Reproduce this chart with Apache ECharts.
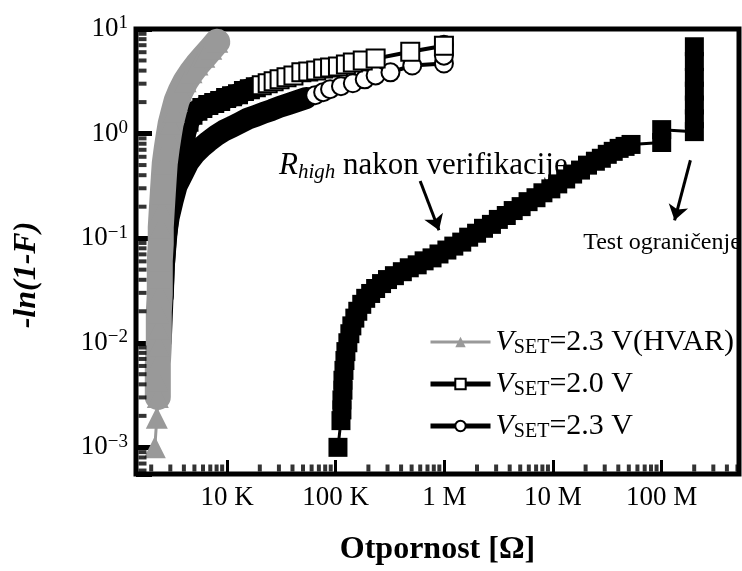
<!DOCTYPE html>
<html>
<head>
<meta charset="utf-8">
<script src="https://cdn.jsdelivr.net/npm/echarts@6/dist/echarts.min.js"></script>
<style>
  html, body { margin: 0; padding: 0; background: #fff; }
  #chart { width: 742px; height: 571px; }
</style>
</head>
<body>
<div id="chart"></div>
<script>
// ---- Resistance [Ω] vs. -ln(1-F) for each programmed population ----
// V_SET = 2.3 V (HVAR)
const hvarR = [2160, 2254, 2301, 2301, 2301, 2350, 2350, 2350, 2399, 2399, 2399, 2449, 2449, 2501, 2556, 2611, 2667, 2780, 2897, 3022, 3220, 3427, 3731, 4143, 4698, 5328, 6170, 7145, 8110];
const hvarF = [0.001, 0.00192, 0.00303, 0.00438, 0.00634, 0.00937, 0.0136, 0.0196, 0.029, 0.0419, 0.0607, 0.0878, 0.127, 0.184, 0.266, 0.376, 0.521, 0.722, 0.957, 1.243, 1.613, 2.05, 2.55, 3.16, 3.85, 4.57, 5.44, 6.48, 7.54];

// V_SET = 2.0 V
const set20R = [2556, 2611, 2721, 2838, 3022, 3288, 3575, 3888, 4141, 4411, 4797, 5329, 5917, 6712, 7613, 8636, 9792, 11110, 12600, 14290, 16210, 18380, 20840, 23640, 26820, 30420, 35240, 40810, 48280, 55900, 66130, 76620, 88720, 104900, 124100, 143800, 177400, 233100, 485800, 991800];
const set20F = [0.0278, 0.0533, 0.0917, 0.151, 0.244, 0.376, 0.556, 0.787, 1.04, 1.30, 1.51, 1.65, 1.76, 1.88, 1.96, 2.05, 2.19, 2.28, 2.38, 2.55, 2.66, 2.78, 2.90, 3.03, 3.16, 3.30, 3.45, 3.60, 3.85, 3.93, 4.02, 4.20, 4.29, 4.38, 4.58, 4.78, 4.99, 5.21, 6.07, 6.91];

// V_SET = 2.3 V
const set23R = [2449, 2501, 2556, 2611, 2723, 2897, 3152, 3428, 3971, 4411, 5003, 5794, 6712, 7940, 9390, 11110, 13140, 15540, 18380, 21740, 25720, 30420, 36750, 44390, 53610, 64760, 76620, 88720, 111800, 143800, 185000, 233100, 319200, 506800, 991800, 991800, 991800];
const set23F = [0.0104, 0.0180, 0.0310, 0.0533, 0.102, 0.158, 0.228, 0.316, 0.429, 0.533, 0.634, 0.738, 0.840, 0.958, 1.07, 1.16, 1.27, 1.39, 1.48, 1.58, 1.68, 1.80, 1.92, 2.05, 2.19, 2.33, 2.49, 2.66, 2.84, 3.03, 3.30, 3.60, 3.85, 4.48, 4.68, 5.56, 7.07];

// R_high after verification (the last column sits at the test limit)
const highR = [104900,
  111800, 114100, 114100, 116600, 116600, 119100, 121600, 124100, 129400, 135000,
  140800, 150000, 159700, 173700, 188900, 209800, 233100, 264300, 299900, 347200,
  410700, 475700, 562600, 651600, 770900, 893100, 1056000, 1223000, 1447000, 1676000,
  1982000, 2296000, 2716000, 3145000, 3721000, 4310000, 5097000, 5905000, 6984000, 8090000,
  9570000, 11080000, 13110000, 15190000, 17960000, 20810000, 24610000, 27920000, 31660000, 35920000,
  40720000, 46180000, 52390000,
  100400000, 100400000,
  200700000, 200700000, 200700000, 200700000, 200700000, 200700000, 200700000];
const highF = [0.0010,
  0.00180, 0.00228, 0.00284, 0.00352, 0.00438, 0.00544, 0.00676, 0.00823, 0.0100, 0.0122,
  0.0145, 0.0172, 0.0200, 0.0233, 0.0266, 0.0296, 0.0330, 0.0368, 0.0402, 0.0438,
  0.0478, 0.0521, 0.0556, 0.0607, 0.0648, 0.0706, 0.0770, 0.0840, 0.0917, 0.1022,
  0.1115, 0.1243, 0.1355, 0.1511, 0.1648, 0.1837, 0.2003, 0.2234, 0.2436, 0.2716,
  0.2962, 0.3303, 0.3681, 0.4104, 0.4477, 0.4991, 0.5441, 0.5808, 0.6336, 0.6764,
  0.7220, 0.7542, 0.7874,
  0.822, 1.091,
  1.044, 1.385, 1.877, 2.545, 3.449, 4.883, 6.764];

// Axis ticks and labels
const xTickExps = [4, 5, 6, 7, 8];
const xTickNames = ['10 K', '100 K', '1 M', '10 M', '100 M'];
const yTickExps = [-3, -2, -1, 0, 1];
const minorFactors = [2, 3, 4, 5, 6, 7, 8, 9];
const xDecades = [1e3, 1e4, 1e5, 1e6, 1e7, 1e8];
const yDecades = [1e-4, 1e-3, 1e-2, 1e-1, 1];

// Annotation arrows: [fromR, fromF, toR, toF]
const arrowSegments = [
  [5.993e5, 0.3525, 8.93e5, 0.119],
  [1.845e8, 0.556, 1.319e8, 0.148]
];

const X_MIN = 1449, X_MAX = 5.17e8;
const Y_MIN = 5.56e-4, Y_MAX = 10;
const SERIF = '"Liberation Serif", "Times New Roman", "DejaVu Serif", serif';

const zip = (a, b) => a.map((v, i) => [v, b[i]]);
const isPow10 = v => Math.abs(Math.log10(v) - Math.round(Math.log10(v))) < 1e-6;

// Where a curve is crowded its markers merge into a solid black band
function openMarkers(r, f, solidBelow) {
  return r.map((v, i) => {
    const item = { value: [v, f[i]] };
    if (v < solidBelow) item.itemStyle = { color: '#000' };
    return item;
  });
}
const crowded = (r, f, solidBelow) => zip(r, f).filter(p => p[0] < solidBelow);

const SOLID20 = 2.0e4, SOLID23 = 6.0e4;

const minorX = [];
xDecades.forEach(d => minorFactors.forEach(k => { const v = d * k; if (v > X_MIN && v < X_MAX) minorX.push([v, Y_MIN]); }));
const minorY = [];
yDecades.forEach(d => minorFactors.forEach(k => { const v = d * k; if (v > Y_MIN && v < Y_MAX) minorY.push([X_MIN, v]); }));

const legendText = {
  hvar: '{v|V}{s|SET}{t|=2.3 V(HVAR)}',
  set20: '{v|V}{s|SET}{t|=2.0 V}',
  set23: '{v|V}{s|SET}{t|=2.3 V}'
};

const chart = echarts.init(document.getElementById('chart'), null, { renderer: 'canvas' });

chart.setOption({
  animation: false,
  backgroundColor: '#fff',
  grid: {
    left: 136, right: -3, top: 29, bottom: 91,
    show: true, borderColor: '#000', borderWidth: 5, backgroundColor: 'transparent'
  },
  xAxis: {
    type: 'log', logBase: 10, min: X_MIN, max: X_MAX,
    axisLine: { show: false },
    splitLine: { show: false },
    axisTick: { show: true, inside: true, length: 14, lineStyle: { color: '#000', width: 3 } },
    axisLabel: {
      color: '#000', fontFamily: SERIF, fontSize: 27, margin: 10, hideOverlap: false,
      formatter: v => {
        if (!isPow10(v)) return '';
        const i = xTickExps.indexOf(Math.round(Math.log10(v)));
        return i < 0 ? '' : xTickNames[i];
      }
    },
    name: 'Otpornost [Ω]', nameLocation: 'middle', nameGap: 60,
    nameTextStyle: { fontFamily: SERIF, fontWeight: 'bold', fontSize: 32, color: '#000' }
  },
  yAxis: {
    type: 'log', logBase: 10, min: Y_MIN, max: Y_MAX,
    axisLine: { show: false },
    splitLine: { show: false },
    axisTick: { show: true, inside: true, length: 16, lineStyle: { color: '#000', width: 5 } },
    axisLabel: {
      color: '#000', margin: 8, hideOverlap: false,
      formatter: v => {
        if (!isPow10(v)) return '';
        const e = Math.round(Math.log10(v));
        if (yTickExps.indexOf(e) < 0) return '';
        return '{b|10}{s|' + String(e).replace('-', '\u2212') + '}';
      },
      rich: {
        b: { fontFamily: SERIF, fontSize: 27, lineHeight: 30, color: '#000' },
        s: { fontFamily: SERIF, fontSize: 19, lineHeight: 22, verticalAlign: 'top', color: '#000' }
      }
    }
  },
  legend: {
    data: [
      { name: 'hvar', lineStyle: { width: 3 } },
      { name: 'set20', lineStyle: { width: 5 } },
      { name: 'set23', lineStyle: { width: 5 } }
    ],
    orient: 'vertical', left: 423, top: 322,
    itemWidth: 60, itemHeight: 13, itemGap: 11,
    selectedMode: false,
    formatter: n => legendText[n],
    textStyle: {
      color: '#000', fontFamily: SERIF, fontSize: 30,
      rich: {
        v: { fontFamily: SERIF, fontStyle: 'italic', fontSize: 30, lineHeight: 32, color: '#000' },
        s: { fontFamily: SERIF, fontSize: 20, lineHeight: 12, verticalAlign: 'bottom', color: '#000' },
        t: { fontFamily: SERIF, fontSize: 30, lineHeight: 32, color: '#000' }
      }
    }
  },
  graphic: [
    {
      type: 'text', x: 279, y: 166, silent: true,
      style: {
        text: '{r|R}{h|high}{n| nakon verifikacije}',
        verticalAlign: 'middle', align: 'left',
        rich: {
          r: { fontFamily: SERIF, fontStyle: 'italic', fontSize: 31, lineHeight: 34, fill: '#000' },
          h: { fontFamily: SERIF, fontStyle: 'italic', fontSize: 21, lineHeight: 14, verticalAlign: 'bottom', fill: '#000' },
          n: { fontFamily: SERIF, fontSize: 31, lineHeight: 34, fill: '#000' }
        }
      }
    },
    {
      type: 'text', x: 662, y: 243, silent: true,
      style: { text: 'Test ograničenje', font: '24px ' + SERIF, fill: '#000', align: 'center', verticalAlign: 'middle' }
    },
    {
      type: 'text', x: 27, y: 275, rotation: Math.PI / 2, silent: true,
      style: { text: '-ln(1-F)', font: 'italic bold 32px ' + SERIF, fill: '#000', align: 'center', verticalAlign: 'middle' }
    }
  ],
  series: [
    {
      name: 'high', type: 'line', data: zip(highR, highF),
      symbol: 'rect', symbolSize: 19,
      itemStyle: { color: '#000' },
      lineStyle: { color: '#000', width: 3 },
      markLine: {
        silent: true, symbol: ['none', 'arrow'], symbolSize: 15,
        label: { show: false },
        lineStyle: { color: '#000', width: 3, type: 'solid' },
        data: arrowSegments.map(s => [{ coord: [s[0], s[1]] }, { coord: [s[2], s[3]] }])
      }
    },
    {
      name: 'set23Band', type: 'line', data: crowded(set23R, set23F, SOLID23),
      symbol: 'none', silent: true,
      lineStyle: { color: '#000', width: 22, cap: 'round', join: 'round' }
    },
    {
      name: 'set23', type: 'line', data: openMarkers(set23R, set23F, SOLID23),
      symbol: 'circle', symbolSize: 18,
      itemStyle: { color: '#fff', borderColor: '#000', borderWidth: 2 },
      lineStyle: { color: '#000', width: 4 }
    },
    {
      name: 'set20Band', type: 'line', data: crowded(set20R, set20F, SOLID20),
      symbol: 'none', silent: true,
      lineStyle: { color: '#000', width: 22, cap: 'round', join: 'round' }
    },
    {
      name: 'set20', type: 'line', data: openMarkers(set20R, set20F, SOLID20),
      symbol: 'rect', symbolSize: 18,
      itemStyle: { color: '#fff', borderColor: '#000', borderWidth: 2 },
      lineStyle: { color: '#000', width: 4 }
    },
    {
      name: 'hvarBand', type: 'line', data: zip(hvarR, hvarF).slice(2), z: 4,
      symbol: 'none', silent: true,
      lineStyle: { color: '#999', width: 26, cap: 'round', join: 'round' }
    },
    {
      name: 'hvar', type: 'line', data: zip(hvarR, hvarF), z: 4,
      symbol: 'triangle', symbolSize: 22,
      itemStyle: { color: '#999' },
      lineStyle: { color: '#999', width: 3 }
    },
    {
      name: 'minorX', type: 'scatter', data: minorX, silent: true, clip: false, z: 10,
      symbol: 'rect', symbolSize: [4, 7], symbolOffset: [0, -6],
      itemStyle: { color: '#000' }
    },
    {
      name: 'minorY', type: 'scatter', data: minorY, silent: true, clip: false, z: 10,
      symbol: 'rect', symbolSize: [8, 4], symbolOffset: [6.5, 0],
      itemStyle: { color: '#000' }
    }
  ]
});
</script>
</body>
</html>
